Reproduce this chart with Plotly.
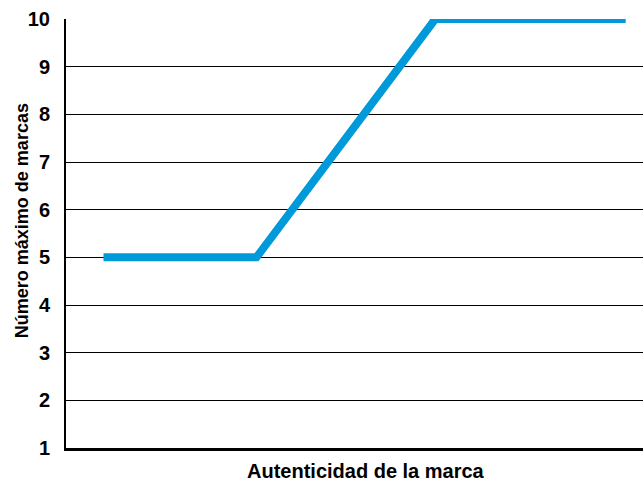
import plotly.graph_objects as go

autenticidad = [0.65, 3.3, 6.4, 9.7]
max_marcas = [5, 5, 10, 10]
y_ticks = [1, 2, 3, 4, 5, 6, 7, 8, 9, 10]
x_title = "Autenticidad de la marca"
y_title = "Número máximo de marcas"

font_family = "Liberation Sans, Arial, sans-serif"

fig = go.Figure()
fig.add_trace(go.Scatter(
    x=autenticidad, y=max_marcas, mode="lines",
    line=dict(color="#009ADA", width=8),
    hoverinfo="skip", showlegend=False,
))

fig.update_layout(
    width=643, height=482,
    margin=dict(l=66, r=0, t=19, b=34),
    paper_bgcolor="white", plot_bgcolor="white",
    font=dict(family=font_family, size=20, color="black"),
    xaxis=dict(
        range=[0, 10], showticklabels=False, showgrid=False, zeroline=False,
        showline=True, linecolor="black", linewidth=3, ticks="",
    ),
    yaxis=dict(
        range=[1, 10], tickvals=y_ticks, ticktext=[f"<b>{v}</b>" for v in y_ticks],
        showgrid=True, gridcolor="black", gridwidth=1, zeroline=False,
        showline=True, linecolor="black", linewidth=2, ticks="",
        ticklabelstandoff=10,
    ),
    annotations=[
        dict(text=f"<b>{x_title}</b>", xref="paper", yref="paper",
             x=0.52, y=-0.0525, xanchor="center", yanchor="middle",
             showarrow=False, font=dict(size=20)),
        dict(text=f"<b>{y_title}</b>", xref="paper", yref="paper",
             x=-0.0763, y=0.531, xanchor="center", yanchor="middle",
             textangle=-90, showarrow=False, font=dict(size=18)),
    ],
)

fig.write_html("out.html")
